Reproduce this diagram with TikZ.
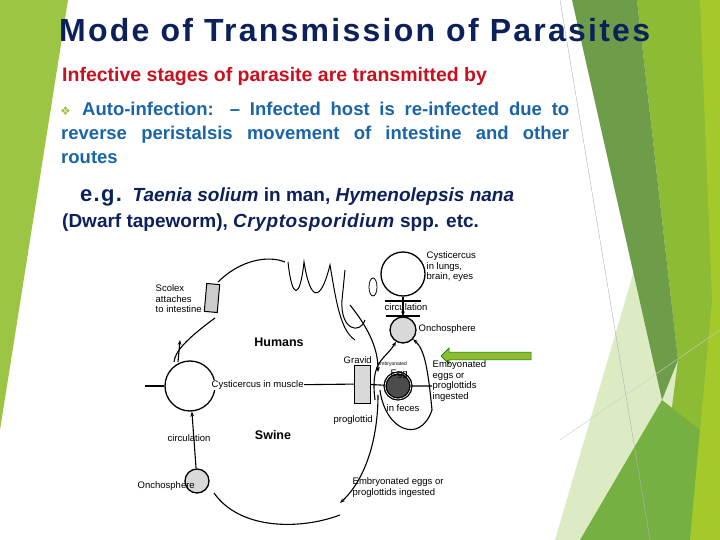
\documentclass[tikz,border=0pt]{standalone}
\usepackage{fontspec}
\setmainfont{Liberation Sans}
\newfontfamily\dejafont{DejaVu Sans}
\usetikzlibrary{arrows.meta,shapes.arrows}
\definecolor{navy}{HTML}{0C205C}
\definecolor{redt}{HTML}{C8101E}
\definecolor{bluet}{HTML}{1A64A8}
\definecolor{dg}{HTML}{6E9D4A}
\definecolor{lime}{HTML}{8DBB34}
\definecolor{leftg}{HTML}{9DC544}
\definecolor{mg}{HTML}{76B043}
\definecolor{pale}{HTML}{DDEBC4}
\begin{document}
\begin{tikzpicture}[x=1pt,y=-1pt,
  lab/.style={font=\fontsize{9.5}{10.5}\selectfont,align=left,inner sep=0.5pt},
  cyc/.style={circle,draw,line width=1.3pt,minimum size=#1},
  line/.style={line width=1.1pt},
  arr/.style={line width=1.1pt,-{Stealth[length=5pt]}}]
\useasboundingbox (0,0) rectangle (720,540);
\fill[white] (0,0) rectangle (720,540);
% decorations
\fill[leftg] (0,0) -- (68,0) -- (0,430) -- cycle;
\fill[pale] (640,250) -- (690,330) -- (660,540) -- (555,540) -- cycle;
\fill[lime] (637,0) -- (720,0) -- (720,540) -- (655,540) -- (678,360) -- cycle;
\fill[dg] (572,0) -- (637,0) -- (678,360) -- (662,400) -- cycle;
\fill[mg] (580,540) -- (662,400) -- (700,430) -- (690,540) -- cycle;
\fill[lime!80!yellow] (700,0) -- (720,0) -- (720,540) -- (690,540) -- (712,300) -- cycle;
\draw[gray!60,line width=0.4pt] (560,0) -- (650,540);
\draw[gray!40,line width=0.4pt] (560,440) -- (720,330);
% texts
\node[anchor=base west,text=navy,font=\bfseries\fontsize{32}{36}\selectfont,inner sep=0] (title) at (59,42) {\addfontfeature{LetterSpace=7}Mode of Transmission of Parasites};
\node[anchor=base west,text=redt,font=\bfseries\fontsize{19.5}{22}\selectfont,inner sep=0] (intro) at (62,82) {Infective stages of parasite are transmitted by};
\node[anchor=base west,text=leftg,font=\dejafont\fontsize{12}{12}\selectfont,inner sep=0] (bul) at (60,116) {❖};
\node[anchor=base west,text=bluet,font=\bfseries\fontsize{18.5}{20}\selectfont,inner sep=0] (auto1) at (82,116)
 {\makebox[487pt][s]{Auto-infection: – Infected host is re-infected due to}};
\node[anchor=base west,text=bluet,font=\bfseries\fontsize{18.5}{20}\selectfont,inner sep=0] (auto2) at (61,140)
 {\makebox[508pt][s]{reverse peristalsis movement of intestine and other}};
\node[anchor=base west,text=bluet,font=\bfseries\fontsize{18.5}{20}\selectfont,inner sep=0] (auto3) at (61,164) {routes};
\node[anchor=base west,text=navy,font=\bfseries\fontsize{19}{21}\selectfont,inner sep=0] (eg) at (80,202)
 {{\fontsize{22}{22}\selectfont\addfontfeature{LetterSpace=6}e.g.}\ \ \textit{Taenia solium} in man, \textit{Hymenolepsis nana}};
\node[anchor=base west,text=navy,font=\bfseries\fontsize{19}{21}\selectfont,inner sep=0] (eg2) at (62,228)
 {(Dwarf tapeworm), \textit{\addfontfeature{LetterSpace=3}Cryptosporidium} spp. etc.};
% diagram
\node[cyc=50pt] (cm) at (190,386) {};
\node[cyc=24pt,fill=gray!30] (onl) at (197,481) {};
\node[cyc=44pt] (cl) at (403,274) {};
\node[cyc=26pt,fill=gray!30] (onr) at (403,330) {};
\node[cyc=26pt,fill=black!70,double=white] (egg) at (398,386) {};
\node[draw,line width=1pt,fill=gray!40,minimum width=13pt,minimum height=28pt,rotate=-5] (scol) at (212,298) {};
\node[draw,fill=gray!30,minimum width=16pt,minimum height=38pt] (grav) at (362,384) {};
\draw[line width=1pt] (288,262) .. controls (292,300) and (300,300) .. (304,262)
  .. controls (310,300) and (320,305) .. (330,265) .. controls (336,300) and (340,330) .. (355,340);
\draw[line width=1pt] (345,270) -- (342,300) .. controls (340,330) and (360,335) .. (365,320);
\draw[line width=0.8pt] (373,287) ellipse (4pt and 9pt);
% connectors
\draw[line] (145,386) -- (cm);
\draw[line] (cm) -- (grav);
\draw[line] (grav) -- (egg) -- (432,386);
\draw[line] (215,318) .. controls (185,340) and (175,352) .. (174,362);
\draw[arr] (178,362) -- (180,340);
\draw[line] (218,282) .. controls (240,260) and (268,255) .. (285,262);
\draw[arr] (onl) -- (cm);
\draw[line] (214,493) .. controls (240,530) and (300,530) .. (340,515);
\draw[arr] (350,305) .. controls (370,330) and (378,350) .. (378,372);
\draw[arr] (378,395) .. controls (378,440) and (365,480) .. (340,503);
\draw[arr] (cl) -- (onr);
\draw[arr] (375,400) .. controls (370,360) and (385,360) .. (onr);
\draw[line] (380,390) .. controls (385,430) and (420,445) .. (432,410);
\draw[arr] (432,410) .. controls (428,370) and (425,350) .. (onr);
\draw[line] (385,301) -- (421,301);
\draw[line] (386,316) -- (420,316);
\node[draw=green!50!black,fill=lime,line width=0.6pt,single arrow,shape border rotate=180,minimum height=90pt,minimum width=16pt,single arrow head extend=4pt] (garrow) at (488,356) {};
% labels
\node[lab,anchor=north west] (l1) at (155,284) {Scolex\\attaches\\to intestine};
\node[lab,anchor=north west] (l2) at (426,251) {Cysticercus\\in lungs,\\brain, eyes};
\node[lab,anchor=west] (l3) at (384,307) {circulation};
\node[lab,anchor=west] (l4) at (418,329) {Onchosphere};
\node[font=\bfseries\fontsize{12.5}{14}\selectfont] (hum) at (279,342) {Humans};
\node[font=\bfseries\fontsize{12.5}{14}\selectfont] (sw) at (273,435) {Swine};
\node[lab,anchor=west,fill=white] (l5) at (211,385) {Cysticercus in muscle};
\node[lab,anchor=west] (l6) at (343,360) {Gravid};
\node[lab,anchor=west] (l7) at (377,364) {\tiny embryonated};
\node[lab,anchor=west] (l8) at (390,374) {Egg};
\node[lab,anchor=west] (l9) at (432,381) {Embyonated\\eggs or\\proglottids\\ingested};
\node[lab,anchor=west] (l10) at (386,408) {in feces};
\node[lab,anchor=west] (l11) at (333,420) {proglottid};
\node[lab,anchor=west] (l12) at (167,438) {circulation};
\node[lab,anchor=west] (l13) at (137,486) {Onchosphere};
\node[lab,anchor=north west] (l14) at (352,477) {Embryonated eggs or\\proglottids ingested};
\end{tikzpicture}
\end{document}
